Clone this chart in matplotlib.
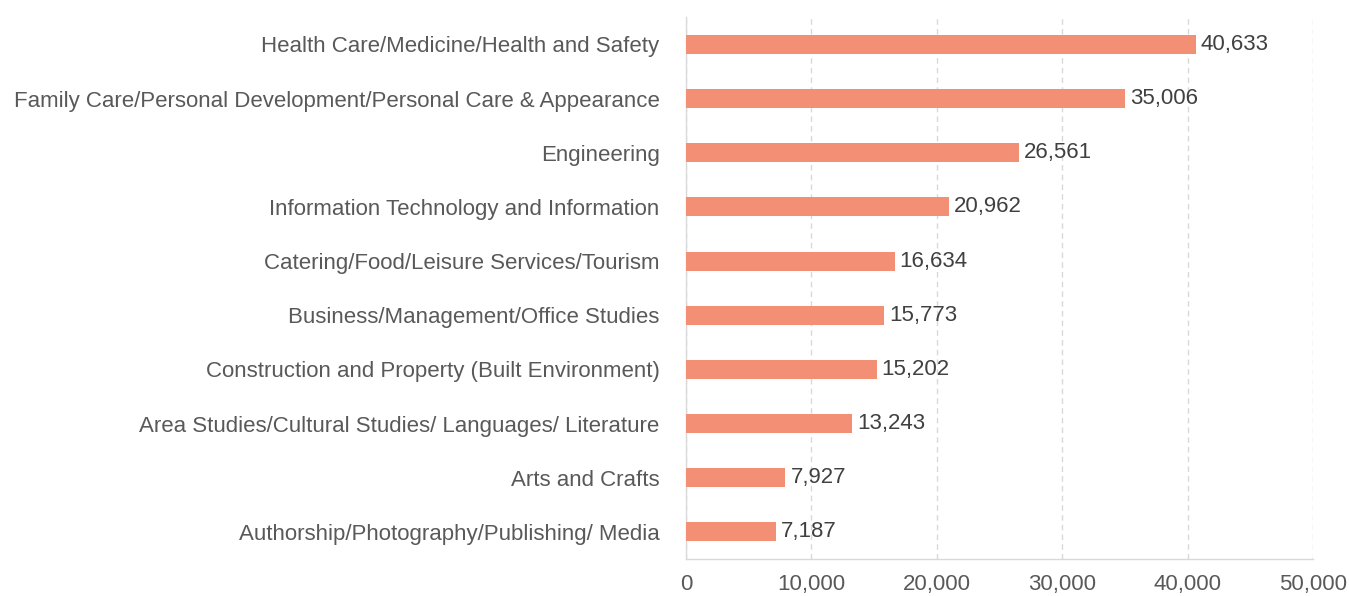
import matplotlib.pyplot as plt

plt.rcParams['font.family'] = ['Liberation Sans', 'DejaVu Sans']

categories = [
    'Health Care/Medicine/Health and Safety',
    'Family Care/Personal Development/Personal Care & Appearance',
    'Engineering',
    'Information Technology and Information',
    'Catering/Food/Leisure Services/Tourism',
    'Business/Management/Office Studies',
    'Construction and Property (Built Environment)',
    'Area Studies/Cultural Studies/ Languages/ Literature',
    'Arts and Crafts',
    'Authorship/Photography/Publishing/ Media',
]
values = [40633, 35006, 26561, 20962, 16634, 15773, 15202, 13243, 7927, 7187]
xticks = [0, 10000, 20000, 30000, 40000, 50000]

fig = plt.figure(figsize=(13.49, 5.96), dpi=100)
ax = fig.add_axes([0.5085, 0.062, 0.4648, 0.909])

pos = list(range(len(categories)))[::-1]
ax.barh(pos, values, height=0.35, color='#F38F74', zorder=3)
for p, v in zip(pos, values):
    ax.text(v + 400, p, f'{v:,}', va='center', ha='left', fontsize=16, color='#404040')

ax.set_yticks(pos)
ax.set_yticklabels(categories, fontsize=16, color='#595959')
ax.set_ylim(-0.5, len(categories) - 0.5)
ax.set_xlim(0, 50000)
ax.set_xticks(xticks)
ax.set_xticklabels([f'{t:,}' for t in xticks], fontsize=16, color='#595959')
ax.tick_params(axis='both', length=0)
ax.tick_params(axis='x', pad=11)
ax.tick_params(axis='y', pad=19)

ax.grid(axis='x', linestyle=(0, (4, 3)), color='#D9D9D9', linewidth=1, zorder=0)
for s in ['top', 'right']:
    ax.spines[s].set_visible(False)
for s in ['left', 'bottom']:
    ax.spines[s].set_color('#D9D9D9')
    ax.spines[s].set_linewidth(1)

fig.savefig('out.png', dpi=100)
